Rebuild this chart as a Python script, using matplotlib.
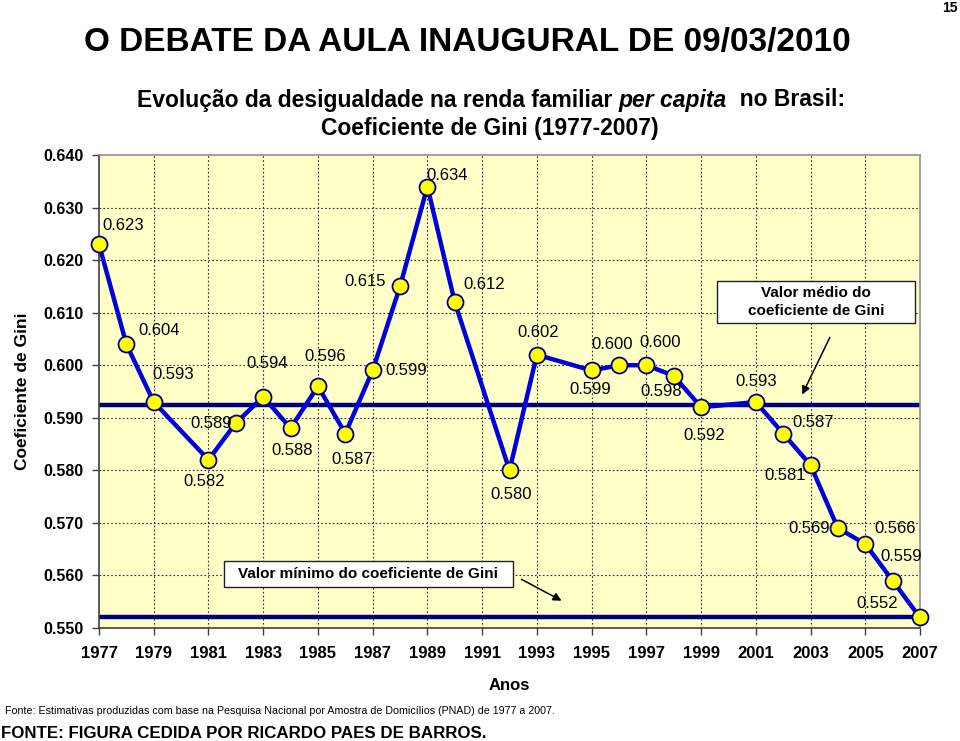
import matplotlib
matplotlib.use("Agg")
import matplotlib.pyplot as plt
from matplotlib import font_manager
from matplotlib.patches import Rectangle

years = [1977, 1978, 1979, 1981, 1982, 1983, 1984, 1985, 1986, 1987, 1988, 1989,
         1990, 1992, 1993, 1995, 1996, 1997, 1998, 1999, 2001, 2002, 2003, 2004,
         2005, 2006, 2007]
gini = [0.623, 0.604, 0.593, 0.582, 0.589, 0.594, 0.588, 0.596, 0.587, 0.599,
        0.615, 0.634, 0.612, 0.580, 0.602, 0.599, 0.600, 0.600, 0.598, 0.592,
        0.593, 0.587, 0.581, 0.569, 0.566, 0.559, 0.552]
mean_gini = 0.5924
min_gini = 0.552
xtick_years = list(range(1977, 2008, 2))
ytick_vals = [0.55, 0.56, 0.57, 0.58, 0.59, 0.60, 0.61, 0.62, 0.63, 0.64]

# label offsets (pixels, dx right, dy up) for each point
label_offsets = [(24, 19), (33, 14), (19, 28), (-4, -22), (-25, 0), (4, 33), (2, -22),
                 (7, 30), (7, -26), (34, 0), (-35, 5), (20, 11), (29, 18), (2, -24),
                 (1, 22), (-1, -19), (-7, 21), (14, 23), (-13, -16), (3, -28), (0, 21),
                 (30, 11), (-25, -10), (-29, 0), (30, 15), (9, 24), (-43, 14)]

avail = {f.name for f in font_manager.fontManager.ttflist}
narrow = 'Liberation Sans Narrow' if 'Liberation Sans Narrow' in avail else 'Liberation Sans'
arial = 'Liberation Sans'

W, H = 960, 741
fig = plt.figure(figsize=(W / 100, H / 100), dpi=100)
fig.patch.set_facecolor('white')
ax = fig.add_axes([99 / W, 1 - 628 / H, (920 - 99) / W, (628 - 155) / H])
ax.set_facecolor('#FFFFC8')

ax.set_xlim(1977, 2007)
ax.set_ylim(0.55, 0.64)
ax.set_xticks(xtick_years)
ax.set_xticklabels([str(y) for y in xtick_years], family=narrow, fontweight='bold', fontsize=12)
ax.set_yticks(ytick_vals)
ax.set_yticklabels(['%.3f' % v for v in ytick_vals], family=arial, fontweight='bold', fontsize=11.5)
ax.tick_params(axis='both', direction='out', length=5, width=1, color='#404040')
ax.tick_params(axis='x', pad=8)
ax.tick_params(axis='y', pad=6)

# grid: horizontal every 0.01, vertical every 2 years from 1979
for v in ytick_vals[1:-1]:
    ax.axhline(v, color='#303030', lw=0.8, ls=(0, (1.5, 2)), zorder=1)
for y in xtick_years[1:-1]:
    ax.axvline(y, color='#303030', lw=0.8, ls=(0, (1.5, 2)), zorder=1)

for s in ['top', 'right']:
    ax.spines[s].set_color('#909090')
    ax.spines[s].set_linewidth(1.2)
for s in ['left', 'bottom']:
    ax.spines[s].set_color('#404040')
    ax.spines[s].set_linewidth(1.2)

ax.axhline(mean_gini, color='#00007A', lw=3.2, zorder=2)
ax.axhline(min_gini, color='#00007A', lw=3.2, zorder=2)

ax.plot(years, gini, color='#0000DD', lw=3.2, marker='o', markersize=11.5,
        markerfacecolor='#FFFF00', markeredgecolor='#00008B', markeredgewidth=1.3,
        zorder=4, clip_on=False)

for x, y, (dx, dy) in zip(years, gini, label_offsets):
    ax.annotate('%.3f' % y, (x, y), xytext=(dx * 0.72, dy * 0.72), textcoords='offset points',
                ha='center', va='center', fontsize=12, family=arial, color='black', zorder=5)

ax.set_xlabel('Anos', family=arial, fontweight='bold', fontsize=12, labelpad=12)
ax.set_ylabel('Coeficiente de Gini', family=arial, fontweight='bold', fontsize=12.5, labelpad=10)

# annotation boxes
def box(x0, y0, x1, y1):
    fig.patches.append(Rectangle((x0 / W, 1 - y1 / H), (x1 - x0) / W, (y1 - y0) / H,
                                 transform=fig.transFigure, facecolor='white',
                                 edgecolor='#202020', lw=1, zorder=6))

box(717, 281, 915, 323)
fig.text(816 / W, 1 - 302 / H, 'Valor médio do\ncoeficiente de Gini', ha='center', va='center',
         fontsize=11, fontweight='bold', family=arial, linespacing=1.3, zorder=7)
box(224, 561, 513, 587)
fig.text(368 / W, 1 - 574 / H, 'Valor mínimo do coeficiente de Gini', ha='center', va='center',
         fontsize=11, fontweight='bold', family=arial, zorder=7)
ax.annotate('', xy=(801 / W, 1 - 397 / H), xytext=(831 / W, 1 - 335 / H),
            xycoords='figure fraction', textcoords='figure fraction',
            arrowprops=dict(arrowstyle='-|>', color='black', lw=1.1, mutation_scale=12))
ax.annotate('', xy=(564 / W, 1 - 602 / H), xytext=(519 / W, 1 - 578 / H),
            xycoords='figure fraction', textcoords='figure fraction',
            arrowprops=dict(arrowstyle='-|>', color='black', lw=1.1, mutation_scale=12))

# titles
fig.text(84 / W, 1 - 43 / H, 'O DEBATE DA AULA INAUGURAL DE 09/03/2010', ha='left', va='center',
         fontsize=24, fontweight='bold', family=narrow)
fig.text(958 / W, 1 - 8 / H, '15', ha='right', va='center', fontsize=10, fontweight='bold', family=narrow)

# subtitle line 1 with italic part
fig.canvas.draw()
renderer = fig.canvas.get_renderer()
parts = [('Evolução da desigualdade na renda familiar ', 'normal'),
         ('per capita', 'italic'),
         ('  no Brasil:', 'normal')]
texts = []
for s, st in parts:
    t = fig.text(0, 1 - 100 / H, s, ha='left', va='center', fontsize=16.5, fontweight='bold',
                 style=st, family=narrow)
    texts.append(t)
widths = [t.get_window_extent(renderer).width for t in texts]
total = sum(widths)
x0 = 491 - total / 2
for t, w in zip(texts, widths):
    t.set_x(x0 / W)
    x0 += w
fig.text(490 / W, 1 - 128 / H, 'Coeficiente de Gini (1977-2007)', ha='center', va='center',
         fontsize=16.5, fontweight='bold', family=narrow)

# footnotes
fig.text(5 / W, 1 - 711 / H, 'Fonte: Estimativas produzidas com base na Pesquisa Nacional por Amostra de Domicílios (PNAD) de 1977 a 2007.',
         ha='left', va='center', fontsize=7.7, family=narrow)
fig.text(1 / W, 1 - 733 / H, 'FONTE: FIGURA CEDIDA POR RICARDO PAES DE BARROS.', ha='left', va='center',
         fontsize=12.2, fontweight='bold', family=arial)

fig.savefig('out.png', dpi=100)
